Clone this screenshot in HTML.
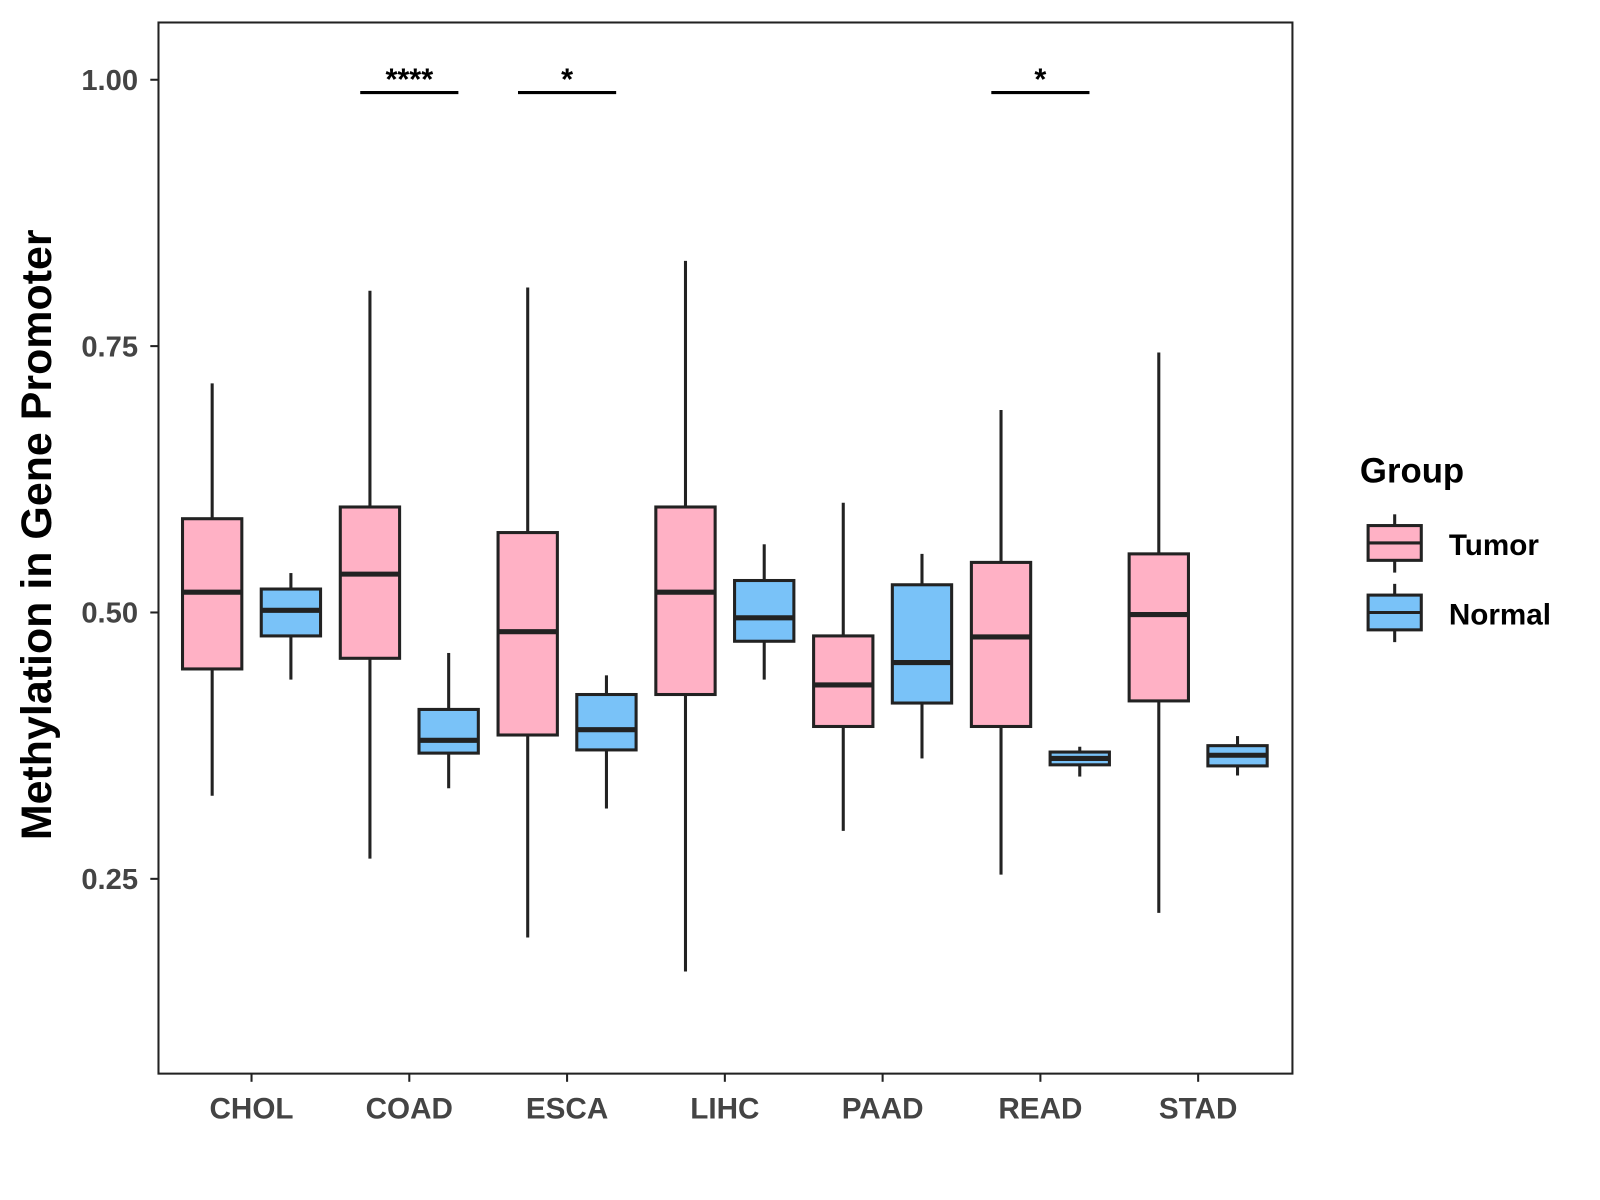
<!DOCTYPE html>
<html><head><meta charset="utf-8"><style>
body{margin:0;background:#fff;}
svg{display:block;font-family:"Liberation Sans",Arial,sans-serif;}
</style></head><body>
<svg id="chart" width="1600" height="1200" xmlns="http://www.w3.org/2000/svg">
<g transform="scale(1.0225)">
<rect x="155" y="22" width="1109" height="1028" fill="#fff" stroke="#222" stroke-width="2"/>
<text transform="translate(50,523) rotate(-90)" text-anchor="middle" font-size="42" font-weight="bold" fill="#000">Methylation in Gene Promoter</text>
<g id="axes"></g><g id="marks"></g><g id="sig"></g>
<g>
<text x="1330" y="472" font-size="34" font-weight="bold">Group</text>
<g>
<line x1="1364" y1="503" x2="1364" y2="560" stroke="#222" stroke-width="3"/>
<rect x="1338" y="514" width="52" height="34" fill="#FFB1C5" stroke="#222" stroke-width="3"/>
<line x1="1338" y1="531" x2="1390" y2="531" stroke="#222" stroke-width="3"/>
<text x="1417" y="543" font-size="29" font-weight="bold">Tumor</text></g>
<g>
<line x1="1364" y1="571" x2="1364" y2="628" stroke="#222" stroke-width="3"/>
<rect x="1338" y="582" width="52" height="34" fill="#79C2F8" stroke="#222" stroke-width="3"/>
<line x1="1338" y1="599" x2="1390" y2="599" stroke="#222" stroke-width="3"/>
<text x="1417" y="611" font-size="29" font-weight="bold">Normal</text></g>
</g>
</g>
</svg>
<script>
const categories=["CHOL","COAD","ESCA","LIHC","PAAD","READ","STAD"];
const tumorLow=[0.328,0.269,0.195,0.163,0.295,0.254,0.218];
const tumorQ1=[0.447,0.457,0.385,0.423,0.393,0.393,0.417];
const tumorMed=[0.519,0.536,0.482,0.519,0.432,0.477,0.498];
const tumorQ3=[0.588,0.599,0.575,0.599,0.478,0.547,0.555];
const tumorHigh=[0.715,0.802,0.805,0.830,0.603,0.690,0.744];
const normalLow=[0.437,0.335,0.316,0.437,0.363,0.346,0.347];
const normalQ1=[0.478,0.368,0.371,0.473,0.415,0.357,0.356];
const normalMed=[0.502,0.380,0.390,0.495,0.453,0.363,0.366];
const normalQ3=[0.522,0.409,0.423,0.530,0.526,0.369,0.375];
const normalHigh=[0.537,0.462,0.441,0.564,0.555,0.374,0.384];
const yTicks=[0.25,0.50,0.75,1.00];
const yTickLabels=["0.25","0.50","0.75","1.00"];
const sigCats=["COAD","ESCA","READ"];
const sigLabels=["****","*","*"];
const sigY=0.988;

const NS="http://www.w3.org/2000/svg";
const y=v=>78+(1-v)*1042;
const x=i=>246+i*154.3;
function el(t,a,p){const e=document.createElementNS(NS,t);for(const k in a)e.setAttribute(k,a[k]);p.appendChild(e);return e;}
const axes=document.getElementById('axes'),marks=document.getElementById('marks'),sig=document.getElementById('sig');
yTicks.forEach((v,i)=>{
  const t=el('line',{x1:147,x2:155,y1:y(v),y2:y(v),stroke:'#222','stroke-width':2},axes);
  
  
  const l=el('text',{x:135,y:y(v)+10,'text-anchor':'end','font-size':28.5,'font-weight':'bold',fill:'#444'},axes);
  l.textContent=yTickLabels[i];
  
  
});
categories.forEach((c,i)=>{
  const t=el('line',{x1:x(i),x2:x(i),y1:1050,y2:1058,stroke:'#222','stroke-width':2},axes);
  
  
  const l=el('text',{x:x(i),y:1094,'text-anchor':'middle','font-size':29,'font-weight':'bold',fill:'#444'},axes);
  l.textContent=c;
  
  
  [[-38.5,'#FFB1C5',tumorLow,tumorQ1,tumorMed,tumorQ3,tumorHigh,'tumor'],[38.5,'#79C2F8',normalLow,normalQ1,normalMed,normalQ3,normalHigh,'normal']].forEach(s=>{
    const cx=x(i)+s[0],w=58;
    const g=el('g',{},marks);
    
    
    el('line',{x1:cx,x2:cx,y1:y(s[6][i]),y2:y(s[5][i]),stroke:'#222','stroke-width':3},g);
    el('line',{x1:cx,x2:cx,y1:y(s[3][i]),y2:y(s[2][i]),stroke:'#222','stroke-width':3},g);
    el('rect',{x:cx-w/2,y:y(s[5][i]),width:w,height:y(s[3][i])-y(s[5][i]),fill:s[1],stroke:'#222','stroke-width':3},g);
    el('line',{x1:cx-w/2,x2:cx+w/2,y1:y(s[4][i]),y2:y(s[4][i]),stroke:'#222','stroke-width':5},g);
  });
});
sigCats.forEach((c,k)=>{
  const i=categories.indexOf(c);
  const g=el('g',{},sig);
  
  
  el('line',{x1:x(i)-48,x2:x(i)+48,y1:y(sigY),y2:y(sigY),stroke:'#000','stroke-width':3},g);
  const t=el('text',{x:x(i),y:y(sigY)-3,'text-anchor':'middle','font-size':30,'font-weight':'bold'},g);
  t.textContent=sigLabels[k];
});
</script>
</body></html>
